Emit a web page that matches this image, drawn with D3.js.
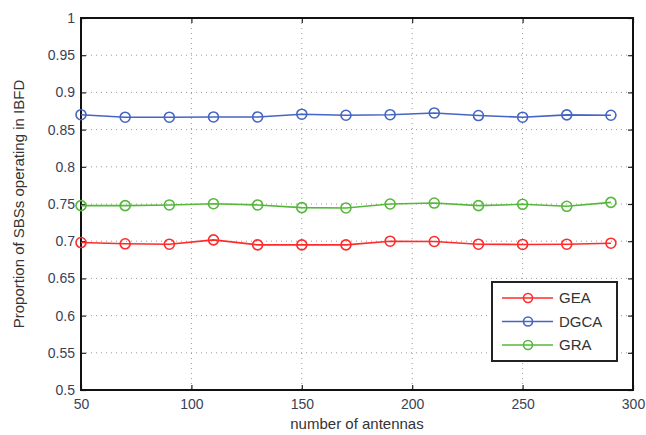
<!doctype html>
<html>
  <head>
    <meta charset="utf-8">
    <style>
      body { margin: 0; background: #fff; }
      text { font-family: "Liberation Sans", Arial, sans-serif; }
    </style>
  </head>
  <body>
    <svg id="chart" width="646" height="435"></svg>
    <script src="https://cdn.jsdelivr.net/npm/d3@7"></script>
    <script>
  // data
  let antennas = [50, 70, 90, 110, 130, 150, 170, 190, 210, 230, 250, 270, 290];
  let gea  = [0.6982, 0.6965, 0.6960, 0.7018, 0.6951, 0.6951, 0.6951, 0.7000, 0.6996, 0.6960, 0.6956, 0.6960, 0.6973];
  let dgca = [0.8700, 0.8667, 0.8667, 0.8670, 0.8670, 0.8707, 0.8693, 0.8700, 0.8724, 0.8689, 0.8667, 0.8698, 0.8693];
  let gra  = [0.7478, 0.7478, 0.7487, 0.7504, 0.7487, 0.7451, 0.7447, 0.7500, 0.7513, 0.7478, 0.7496, 0.7469, 0.7522];
  let seriesNames = ["GEA", "DGCA", "GRA"];
  let xTicks = [50, 100, 150, 200, 250, 300];
  let yTicks = [0.5, 0.55, 0.6, 0.65, 0.7, 0.75, 0.8, 0.85, 0.9, 0.95, 1];

  let colors = { GEA: "#ff2a2a", DGCA: "#4565c4", GRA: "#55b83a" };
  let seriesData = { GEA: gea, DGCA: dgca, GRA: gra };

  let margin = { top: 18, right: 13, bottom: 45, left: 81 };
  let width = 646 - margin.left - margin.right;
  let height = 435 - margin.top - margin.bottom;

  let svg = d3.select("#chart")
    .append("g")
    .attr("transform", "translate(" + margin.left + "," + margin.top + ")");

  let x = d3.scaleLinear().domain([50, 300]).range([0, width]);
  let y = d3.scaleLinear().domain([0.5, 1]).range([height, 0]);

  // dotted grid
  svg.append("g")
    .selectAll("line")
    .data(xTicks.slice(1, -1))
    .join("line")
    .attr("x1", d => x(d)).attr("x2", d => x(d))
    .attr("y1", 0).attr("y2", height)
    .attr("stroke", "#9a9a9a")
    .attr("stroke-width", 1)
    .attr("stroke-dasharray", "1,4");

  svg.append("g")
    .selectAll("line")
    .data(yTicks.slice(1, -1))
    .join("line")
    .attr("x1", 0).attr("x2", width)
    .attr("y1", d => y(d)).attr("y2", d => y(d))
    .attr("stroke", "#9a9a9a")
    .attr("stroke-width", 1)
    .attr("stroke-dasharray", "1,4");

  // axes, ticks pointing inwards
  svg.append("g")
    .attr("transform", "translate(0," + height + ")")
    .call(d3.axisBottom(x).tickValues(xTicks).tickSize(-5).tickPadding(9).tickFormat(d3.format("d")));
  svg.append("g")
    .call(d3.axisLeft(y).tickValues(yTicks).tickSize(-5).tickPadding(6).tickFormat(d => d === 1 ? "1" : d3.format("")(d)));
  svg.append("g")
    .call(d3.axisTop(x).tickValues(xTicks).tickSize(-5).tickFormat(""));
  svg.append("g")
    .attr("transform", "translate(" + width + ",0)")
    .call(d3.axisRight(y).tickValues(yTicks).tickSize(-5).tickFormat(""));

  svg.selectAll(".domain").remove();
  svg.selectAll(".tick line").attr("stroke", "#222").attr("stroke-width", 1.2);
  svg.selectAll(".tick text")
    .attr("fill", "#3b3f55")
    .style("font-size", "14px")
    .style("font-family", "Liberation Sans, Arial, sans-serif");

  // frame
  svg.append("rect")
    .attr("x", 0).attr("y", 0)
    .attr("width", width).attr("height", height)
    .attr("fill", "none")
    .attr("stroke", "#111")
    .attr("stroke-width", 2);

  // series
  let line = d3.line()
    .x((d, i) => x(antennas[i]))
    .y(d => y(d));

  seriesNames.forEach(function (name) {
    svg.append("path")
      .datum(seriesData[name])
      .attr("d", line)
      .attr("fill", "none")
      .attr("stroke", colors[name])
      .attr("stroke-width", 1.6);

    svg.append("g")
      .selectAll("circle")
      .data(seriesData[name])
      .join("circle")
      .attr("cx", (d, i) => x(antennas[i]))
      .attr("cy", d => y(d))
      .attr("r", 5)
      .attr("fill", "none")
      .attr("stroke", colors[name])
      .attr("stroke-width", 1.6);
  });

  // legend
  let legend = svg.append("g")
    .attr("transform", "translate(" + (492 - margin.left) + "," + (282 - margin.top) + ")");
  legend.append("rect")
    .attr("width", 125).attr("height", 79)
    .attr("fill", "#fff")
    .attr("stroke", "#222")
    .attr("stroke-width", 2);
  seriesNames.forEach(function (name, i) {
    let ly = 16 + i * 23.5;
    legend.append("line")
      .attr("x1", 10).attr("x2", 61)
      .attr("y1", ly).attr("y2", ly)
      .attr("stroke", colors[name])
      .attr("stroke-width", 1.6);
    legend.append("circle")
      .attr("cx", 36).attr("cy", ly)
      .attr("r", 4.5)
      .attr("fill", "none")
      .attr("stroke", colors[name])
      .attr("stroke-width", 1.6);
    legend.append("text")
      .attr("x", 67).attr("y", ly)
      .attr("dy", "0.36em")
      .attr("fill", "#333")
      .style("font-size", "15px")
      .text(name);
  });

  // axis labels
  svg.append("text")
    .attr("x", width / 2)
    .attr("y", height + 39)
    .attr("text-anchor", "middle")
    .attr("fill", "#333")
    .style("font-size", "15px")
    .text("number of antennas");

  svg.append("text")
    .attr("transform", "rotate(-90)")
    .attr("x", -height / 2)
    .attr("y", -57)
    .attr("text-anchor", "middle")
    .attr("fill", "#333")
    .style("font-size", "15px")
    .text("Proportion of SBSs operating in IBFD");
    </script>
  </body>
</html>
